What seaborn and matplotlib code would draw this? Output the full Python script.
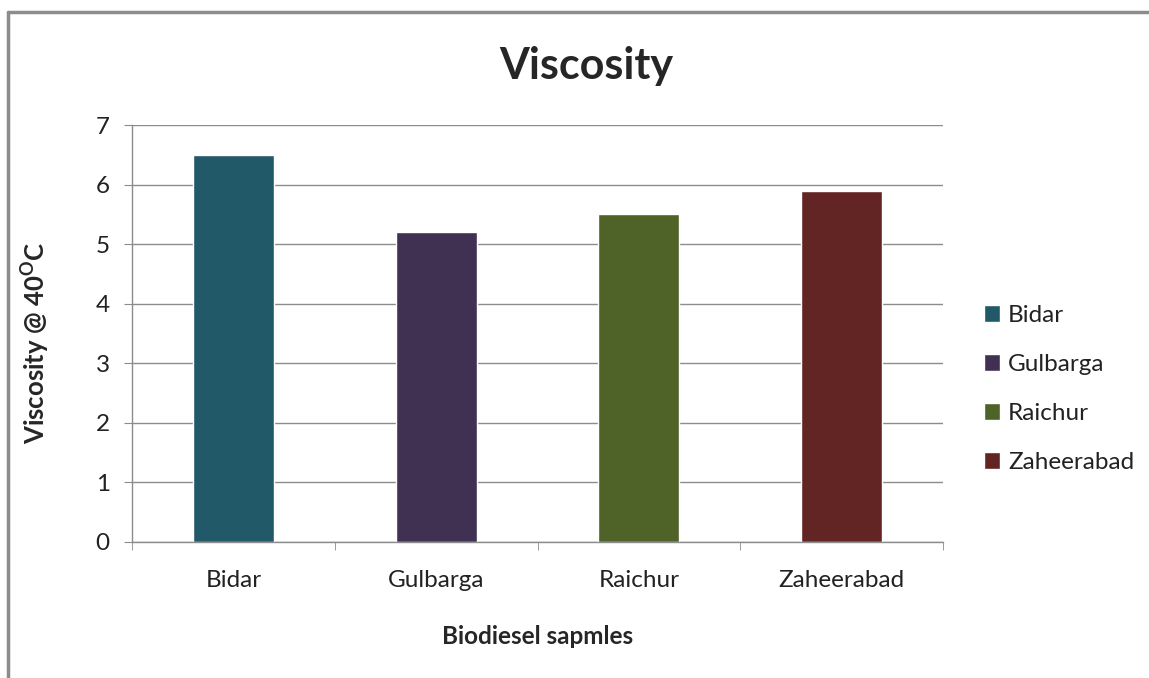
import matplotlib
matplotlib.use("Agg")
import matplotlib.pyplot as plt
import seaborn as sns
import pandas as pd
from matplotlib.lines import Line2D
from matplotlib.ticker import FixedLocator

sites = ["Bidar", "Gulbarga", "Raichur", "Zaheerabad"]
viscosity = [6.5, 5.2, 5.5, 5.9]
colors = ["#215968", "#403152", "#4F6228", "#632523"]
yticks = [0, 1, 2, 3, 4, 5, 6, 7]

sns.set_style("white")
plt.rcParams["font.family"] = ["Lato", "DejaVu Sans"]
plt.rcParams["mathtext.fontset"] = "custom"
plt.rcParams["mathtext.rm"] = "Lato"
plt.rcParams["mathtext.bf"] = "Lato:bold"

df = pd.DataFrame({"site": sites, "visc": viscosity})

W, H = 1149, 678
fig = plt.figure(figsize=(W / 100, H / 100), dpi=100)
ax = fig.add_axes([132 / W, 1 - 542 / H, (943 - 132) / W, (542 - 125) / H])

sns.barplot(data=df, x="site", y="visc", hue="site", palette=colors,
            width=0.4, dodge=False, ax=ax, saturation=1, legend=True)

ax.set_ylim(0, 7)
ax.set_xlim(-0.5, 3.5)
ax.set_yticks(yticks)
ax.yaxis.grid(True, color="#8c8c8c", linewidth=1)
ax.set_axisbelow(True)
for s in ["top", "right"]:
    ax.spines[s].set_visible(False)
for s in ["left", "bottom"]:
    ax.spines[s].set_color("#8c8c8c")
    ax.spines[s].set_linewidth(1)

ax.tick_params(axis="y", which="major", left=True, length=6, color="#8c8c8c",
               labelsize=17.5, labelcolor="#222222", pad=10)
ax.tick_params(axis="x", which="major", bottom=False, labelsize=17.5,
               labelcolor="#222222", pad=17)
ax.xaxis.set_minor_locator(FixedLocator([-0.5, 0.5, 1.5, 2.5, 3.5]))
ax.tick_params(axis="x", which="minor", bottom=True, length=6, color="#8c8c8c")

ax.set_xlabel("Biodiesel sapmles", fontsize=17.5, fontweight="bold")
ax.set_ylabel(r"Viscosity @ 40$^{\mathbf{O}}$C", fontsize=18.5, fontweight="bold")
ax.xaxis.set_label_coords(0.5, (542 - 637) / 417)
ax.xaxis.label.set_va("center")
ax.yaxis.set_label_coords((35 - 132) / 811, (542 - 343) / 417)
ax.yaxis.label.set_va("center")

fig.text(586 / W, 1 - 66 / H, "Viscosity", fontsize=31, fontweight="bold",
         ha="center", va="center")

leg = ax.legend(loc="center left", bbox_to_anchor=(962 / W, 1 - 389 / H),
                bbox_transform=fig.transFigure, frameon=False, fontsize=17.5,
                handlelength=0.65, handleheight=0.65, handletextpad=0.35,
                labelspacing=1.15)
for t in leg.get_texts():
    t.set_color("#222222")

# outer chart border (top and left edges visible)
fig.add_artist(Line2D([8 / W, 1], [1 - 12 / H, 1 - 12 / H],
                      transform=fig.transFigure, color="#8c8c8c", linewidth=2.5))
fig.add_artist(Line2D([8 / W, 8 / W], [0, 1 - 12 / H],
                      transform=fig.transFigure, color="#8c8c8c", linewidth=2.5))

fig.savefig("out.png", dpi=100)
